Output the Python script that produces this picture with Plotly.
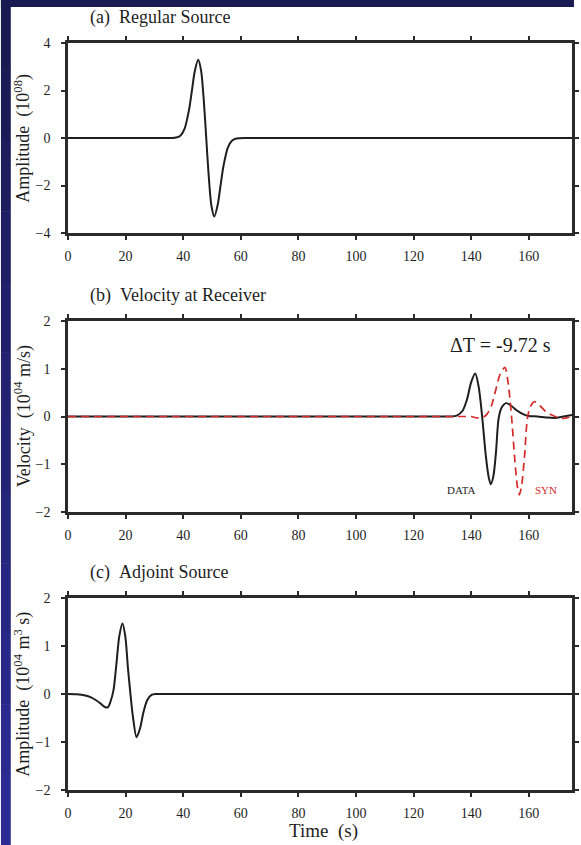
import plotly.graph_objects as go

# ---------------- data ----------------
x_ticks = [0, 20, 40, 60, 80, 100, 120, 140, 160]

# (a) Regular source
t_a = [0, 30, 34, 36, 37.5, 39, 40.5, 42, 43, 44, 45.2, 46.2, 47.2, 48, 48.8, 49.8, 50.8, 52, 53, 54, 55.5, 57, 58.5, 62, 66, 175]
amp_a = [0, 0, 0, 0.002, 0.02, 0.10, 0.40, 1.17, 1.97, 2.80, 3.30, 2.85, 1.49, 0, -1.49, -2.85, -3.30, -2.80, -1.97, -1.17, -0.40, -0.10, -0.02, 0, 0, 0]

# (b) Velocity at receiver
t_data = [0, 100, 130, 133, 135, 137, 138.5, 140, 141.4, 142.6, 143.8, 145, 146, 146.8, 147.7, 148.6, 149.5, 150.5, 152.2, 154, 156, 158, 160, 163, 166, 169, 172, 175]
v_data = [0, 0, 0, 0, 0.02, 0.12, 0.35, 0.72, 0.90, 0.62, 0, -0.78, -1.25, -1.42, -1.25, -0.75, -0.05, 0.18, 0.28, 0.22, 0.12, 0.05, 0.01, 0, -0.02, -0.03, 0, 0.03]
t_syn = [0, 100, 136, 138, 140, 142, 144, 145.5, 147, 148.5, 150, 151.7, 152.8, 154, 155.2, 156, 156.7, 157.5, 158.5, 159.5, 160.5, 162, 164, 166, 168, 170, 172, 175]
v_syn = [0, 0, 0, 0, 0, -0.03, -0.02, 0.05, 0.22, 0.55, 0.88, 1.03, 0.72, 0, -0.95, -1.45, -1.64, -1.45, -0.85, -0.05, 0.20, 0.31, 0.22, 0.10, 0.03, -0.02, -0.04, 0]

# (c) Adjoint source
t_c = [0, 3, 6, 8, 10, 11.5, 12.8, 13.8, 14.8, 15.8, 16.8, 17.8, 18.9, 19.9, 20.8, 21.6, 22.5, 23.8, 25, 26.2, 27.5, 29, 30.5, 33, 36, 175]
amp_c = [0, -0.005, -0.03, -0.07, -0.14, -0.21, -0.27, -0.28, -0.15, 0.08, 0.62, 1.2, 1.47, 1.2, 0.55, 0.05, -0.45, -0.90, -0.72, -0.38, -0.13, -0.02, 0, 0, 0, 0]

titles = ["(a)\u00a0\u00a0Regular Source", "(b)\u00a0\u00a0Velocity at Receiver", "(c)\u00a0\u00a0Adjoint Source"]
ytitles = ["Amplitude\u00a0\u00a0(10<sup>08</sup>)",
           "Velocity\u00a0\u00a0(10<sup>04</sup> m/s)",
           "Amplitude\u00a0\u00a0(10<sup>04</sup> m<sup>3</sup> s)"]
xtitle = "Time\u00a0\u00a0(s)"
dt_label = "\u0394T = -9.72 s"

# ---------------- layout geometry ----------------
W, H = 581, 845
ML, MR, MT, MB = 68, 2, 43, 55
PW, PH = W - ML - MR, H - MT - MB
domains = [[0.7456, 1.0], [0.3722, 0.6278], [0.0, 0.2570]]
yranges = [[-4, 4], [-2, 2], [-2, 2]]
ytickvals = [[-4, -2, 0, 2, 4], [-2, -1, 0, 1, 2], [-2, -1, 0, 1, 2]]

FONT = "Liberation Serif"
INK = "#1e1e1e"
RED = "#d42a2a"

fig = go.Figure()
line_k = dict(color=INK, width=2)
fig.add_trace(go.Scatter(x=t_a, y=amp_a, mode="lines", line=dict(**line_k, shape="spline", smoothing=0.8), xaxis="x", yaxis="y"))
fig.add_trace(go.Scatter(x=t_data, y=v_data, mode="lines", line=dict(**line_k, shape="spline", smoothing=0.8), xaxis="x2", yaxis="y2"))
fig.add_trace(go.Scatter(x=t_syn, y=v_syn, mode="lines", line=dict(color=RED, width=1.7, dash="8px,5px", shape="spline", smoothing=0.8), xaxis="x2", yaxis="y2"))
fig.add_trace(go.Scatter(x=t_c, y=amp_c, mode="lines", line=dict(**line_k, shape="spline", smoothing=0.8), xaxis="x3", yaxis="y3"))

layout = {}
for i in range(3):
    sx = "" if i == 0 else str(i + 1)
    common = dict(showline=True, linewidth=2.5, linecolor="#2a2a2a", mirror="ticks",
                  ticks="outside", ticklen=4, tickwidth=1.5, tickcolor="#2a2a2a",
                  showgrid=False, zeroline=False)
    layout["xaxis" + sx] = dict(common, domain=[0, 1], range=[0, 175], tickvals=x_ticks,
                                anchor="y" + sx)
    layout["yaxis" + sx] = dict(common, domain=domains[i], range=yranges[i], tickvals=ytickvals[i],
                                anchor="x" + sx)

annotations = []
for i in range(3):
    top_px = MT + (1 - domains[i][1]) * PH
    annotations.append(dict(text=titles[i], xref="paper", yref="paper", x=(88 - ML) / PW,
                            y=1 - (top_px - 26 - MT) / PH, xanchor="left", yanchor="middle",
                            showarrow=False, font=dict(family=FONT, size=18, color=INK)))
    annotations.append(dict(text=ytitles[i], xref="paper", yref="paper", x=(22 - ML) / PW,
                            y=(domains[i][0] + domains[i][1]) / 2, xanchor="center", yanchor="middle",
                            textangle=-90, showarrow=False, font=dict(family=FONT, size=18, color=INK)))
annotations.append(dict(text=xtitle, xref="paper", yref="paper", x=(327 - ML) / PW, y=-(831 - MT - PH) / PH,
                        xanchor="center", yanchor="middle", showarrow=False,
                        font=dict(family=FONT, size=19, color=INK)))
annotations.append(dict(text=dt_label, xref="x2", yref="y2", x=150, y=1.5, xanchor="center", yanchor="middle",
                        showarrow=False, font=dict(family=FONT, size=20, color=INK)))
annotations.append(dict(text="DATA", xref="x2", yref="y2", x=136.6, y=-1.54, xanchor="center", yanchor="middle",
                        showarrow=False, font=dict(family=FONT, size=11, color=INK)))
annotations.append(dict(text="SYN", xref="x2", yref="y2", x=166.1, y=-1.54, xanchor="center", yanchor="middle",
                        showarrow=False, font=dict(family=FONT, size=11, color=RED)))

# slide background bands (dark blue, left and top)
def px_x(p):
    return (p - ML) / PW

def px_y(p):
    return 1 - (p - MT) / PH

shapes = []
n = 12
for k in range(n):
    y0p, y1p = k * H / n, (k + 1) * H / n
    f = k / (n - 1)
    r = int(0x1a + (0x2c - 0x1a) * f)
    g = int(0x1a + (0x2c - 0x1a) * f)
    b = int(0x52 + (0x94 - 0x52) * f)
    shapes.append(dict(type="rect", xref="paper", yref="paper", x0=px_x(0), x1=px_x(10),
                       y0=px_y(y1p + 0.5), y1=px_y(y0p), fillcolor=f"rgb({r},{g},{b})", line=dict(width=0)))
shapes.append(dict(type="rect", xref="paper", yref="paper", x0=px_x(0), x1=px_x(W),
                   y0=px_y(7), y1=px_y(0), fillcolor="rgb(26,26,82)", line=dict(width=0)))

fig.update_layout(**layout, annotations=annotations, shapes=shapes,
                  width=W, height=H, margin=dict(l=ML, r=MR, t=MT, b=MB),
                  paper_bgcolor="white", plot_bgcolor="white", showlegend=False,
                  font=dict(family=FONT, color=INK))
fig.update_xaxes(tickfont=dict(family=FONT, size=14, color=INK), ticklabelstandoff=4)
fig.update_yaxes(tickfont=dict(family=FONT, size=14, color=INK), ticklabelstandoff=8)
fig.write_html("out.html", config={"displayModeBar": False})
